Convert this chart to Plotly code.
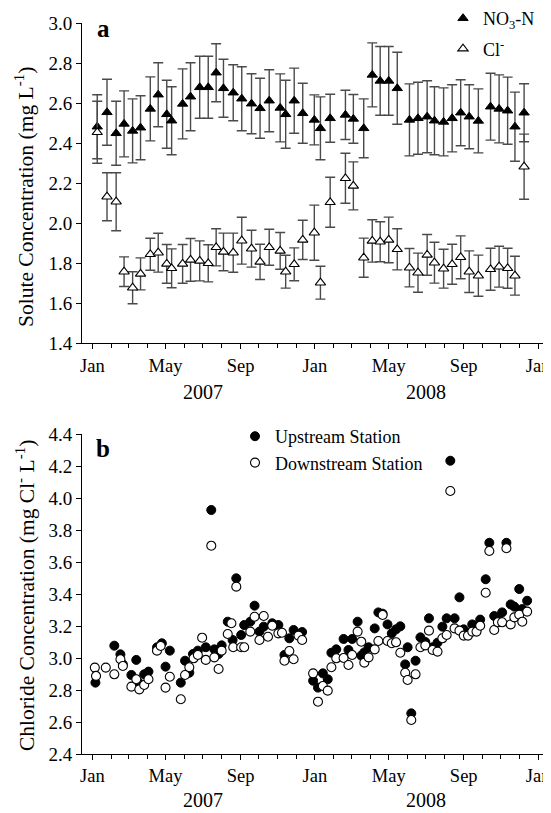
import plotly.graph_objects as go

# ---------------- Panel a data ----------------
sample_dates_a = [
    "2007-01-09", "2007-01-25", "2007-02-09", "2007-02-22", "2007-03-08", "2007-03-21",
    "2007-04-06", "2007-04-19", "2007-05-03", "2007-05-11", "2007-05-29", "2007-06-11",
    "2007-06-26", "2007-07-10", "2007-07-23", "2007-08-04", "2007-08-20", "2007-09-03",
    "2007-09-19", "2007-10-03", "2007-10-18", "2007-11-05", "2007-11-14", "2007-11-28",
    "2007-12-12", "2007-12-31", "2008-01-10", "2008-01-26", "2008-02-20", "2008-03-04",
    "2008-03-21", "2008-04-04", "2008-04-17", "2008-05-01", "2008-05-15", "2008-06-04",
    "2008-06-18", "2008-07-03", "2008-07-15", "2008-07-30", "2008-08-13", "2008-08-27",
    "2008-09-10", "2008-09-25", "2008-10-15", "2008-10-29", "2008-11-12", "2008-11-24",
    "2008-12-09",
]
no3_n = [
    2.483, 2.555, 2.45, 2.497, 2.462, 2.478, 2.572, 2.643, 2.545, 2.513, 2.597, 2.633,
    2.68, 2.68, 2.753, 2.675, 2.653, 2.623, 2.598, 2.575, 2.613, 2.577, 2.545, 2.613,
    2.55, 2.517, 2.475, 2.525, 2.542, 2.522, 2.475, 2.742, 2.712, 2.712, 2.675, 2.517,
    2.525, 2.533, 2.513, 2.507, 2.525, 2.553, 2.533, 2.512, 2.583, 2.572, 2.563, 2.483,
    2.553,
]
no3_err = [
    0.16, 0.165, 0.16, 0.165, 0.16, 0.16, 0.16, 0.16, 0.17, 0.17, 0.175, 0.17,
    0.155, 0.155, 0.145, 0.145, 0.14, 0.16, 0.15, 0.15, 0.155, 0.17, 0.17, 0.163,
    0.15, 0.125, 0.157, 0.12, 0.123, 0.122, 0.147, 0.16, 0.172, 0.172, 0.18, 0.18,
    0.18, 0.18, 0.17, 0.17, 0.168, 0.165, 0.16, 0.16, 0.167, 0.17, 0.168, 0.173,
    0.145,
]
chloride_a = [
    2.455, 2.133, 2.108, 1.758, 1.678, 1.747, 1.845, 1.853, 1.797, 1.775, 1.797, 1.817,
    1.812, 1.80, 1.88, 1.857, 1.853, 1.913, 1.873, 1.807, 1.88, 1.862, 1.758, 1.795,
    1.917, 1.953, 1.703, 2.105, 2.225, 2.187, 1.828, 1.912, 1.908, 1.917, 1.87, 1.778,
    1.753, 1.842, 1.803, 1.773, 1.795, 1.83, 1.758, 1.738, 1.77, 1.783, 1.775, 1.738,
    2.283,
]
chloride_err = [
    0.155, 0.12, 0.145, 0.074, 0.08, 0.08, 0.08, 0.097, 0.097, 0.097, 0.097, 0.107,
    0.10, 0.093, 0.093, 0.094, 0.098, 0.117, 0.092, 0.088, 0.09, 0.092, 0.082, 0.082,
    0.098, 0.138, 0.082, 0.125, 0.125, 0.12, 0.098, 0.106, 0.10, 0.114, 0.103, 0.096,
    0.098, 0.102, 0.102, 0.097, 0.10, 0.107, 0.104, 0.103, 0.105, 0.102, 0.10, 0.097,
    0.163,
]

# ---------------- Panel b data ----------------
up_dates = [
    "2007-01-06", "2007-02-06", "2007-02-16", "2007-02-20", "2007-03-06", "2007-03-14",
    "2007-03-19", "2007-03-27", "2007-04-03", "2007-04-17", "2007-04-25", "2007-05-01",
    "2007-05-08", "2007-05-26", "2007-06-02", "2007-06-09", "2007-06-15", "2007-06-23",
    "2007-07-06", "2007-07-15", "2007-07-20", "2007-07-27", "2007-08-01", "2007-08-11",
    "2007-08-19", "2007-08-25", "2007-09-02", "2007-09-07", "2007-09-17", "2007-09-24",
    "2007-10-02", "2007-10-09", "2007-10-23", "2007-11-02", "2007-11-12", "2007-11-20",
    "2007-11-27", "2007-12-11", "2007-12-29", "2008-01-06",
    "2008-01-14", "2008-01-22", "2008-01-28", "2008-02-05", "2008-02-17", "2008-02-25",
    "2008-03-02", "2008-03-11", "2008-03-17", "2008-03-22", "2008-03-29", "2008-04-08",
    "2008-04-14", "2008-04-21", "2008-04-29", "2008-05-06", "2008-05-13", "2008-05-20",
    "2008-05-28", "2008-06-01", "2008-06-07", "2008-06-14", "2008-06-22", "2008-06-30",
    "2008-07-06", "2008-07-12", "2008-07-20", "2008-07-28", "2008-08-04", "2008-08-10",
    "2008-08-17", "2008-08-25", "2008-09-01", "2008-09-08", "2008-09-15", "2008-09-22",
    "2008-09-28", "2008-10-07", "2008-10-13", "2008-10-21", "2008-10-27", "2008-11-03",
    "2008-11-10", "2008-11-17", "2008-11-23", "2008-12-01", "2008-12-06", "2008-12-14",
]
upstream = [
    2.846, 3.077, 3.023, 2.96, 2.894, 2.988, 2.842, 2.898, 2.915, 3.067, 3.092, 2.946,
    3.046, 2.846, 2.983, 2.908, 3.025, 3.046, 3.067, 3.925, 3.054, 3.025, 3.079, 3.227,
    3.1125, 3.498, 3.144, 3.206, 3.227, 3.327, 3.165, 3.196, 3.217, 3.206, 3.019, 3.123,
    3.175, 3.1625, 2.858, 2.815,
    2.904, 2.867, 3.033, 3.054, 3.119, 3.05, 3.119, 3.227, 3.015, 3.035, 3.067, 3.185,
    3.285, 3.277, 3.21, 3.154, 3.179, 3.198, 2.96, 3.067, 2.654, 2.983, 3.129, 3.10,
    3.248, 3.067, 3.096, 3.196, 3.248, 4.233, 3.248, 3.379, 3.179, 3.158, 3.21, 3.175,
    3.24, 3.492, 3.72, 3.2625, 3.248, 3.285, 3.72, 3.335, 3.321, 3.431, 3.306, 3.358,
]
down_dates = [
    "2007-01-05", "2007-01-07", "2007-01-23", "2007-02-06", "2007-02-16", "2007-02-20",
    "2007-03-06", "2007-03-14", "2007-03-19", "2007-03-27", "2007-04-03", "2007-04-17",
    "2007-04-23", "2007-05-01", "2007-05-08", "2007-05-26", "2007-06-02", "2007-06-09",
    "2007-06-16", "2007-06-23", "2007-06-30", "2007-07-06", "2007-07-15", "2007-07-20",
    "2007-07-27", "2007-08-01", "2007-08-11", "2007-08-17", "2007-08-20", "2007-08-25",
    "2007-09-02", "2007-09-07", "2007-09-17", "2007-09-24", "2007-10-02", "2007-10-09",
    "2007-10-16", "2007-10-23", "2007-11-02", "2007-11-08", "2007-11-12", "2007-11-20",
    "2007-11-27", "2007-12-05", "2007-12-11", "2007-12-29", "2008-01-06",
    "2008-01-14", "2008-01-22", "2008-01-28", "2008-02-05", "2008-02-17", "2008-02-25",
    "2008-03-02", "2008-03-11", "2008-03-17", "2008-03-22", "2008-03-29", "2008-04-08",
    "2008-04-14", "2008-04-21", "2008-04-29", "2008-05-06", "2008-05-13", "2008-05-20",
    "2008-05-28", "2008-06-01", "2008-06-07", "2008-06-14", "2008-06-22", "2008-06-30",
    "2008-07-06", "2008-07-12", "2008-07-20", "2008-07-28", "2008-08-04", "2008-08-10",
    "2008-08-17", "2008-08-25", "2008-09-01", "2008-09-08", "2008-09-15", "2008-09-22",
    "2008-09-28", "2008-10-07", "2008-10-13", "2008-10-21", "2008-10-27", "2008-11-03",
    "2008-11-10", "2008-11-17", "2008-11-23", "2008-12-01", "2008-12-06", "2008-12-14",
]
downstream = [
    2.94, 2.888, 2.94, 2.898, 2.992, 2.95, 2.821, 2.867, 2.804, 2.831, 2.867, 3.046,
    3.075, 2.815, 2.883, 2.742, 2.894, 2.942, 2.998, 3.019, 3.127, 2.988, 3.702, 3.004,
    2.931, 3.046, 3.15, 3.217, 3.067, 3.446, 3.067, 3.067, 3.165, 3.258, 3.1125, 3.2625,
    3.133, 3.202, 3.154, 3.158, 2.983, 3.044, 2.992, 3.14, 3.1125, 2.904, 2.727,
    2.825, 2.796, 2.942, 2.998, 3.00, 2.956, 3.019, 3.165, 3.102, 2.971, 3.004, 3.054,
    3.106, 3.269, 3.106, 3.092, 3.098, 3.033, 2.908, 2.8625, 2.6125, 2.898, 3.067, 3.079,
    3.171, 3.05, 3.04, 3.123, 3.144, 4.044, 3.185, 3.171, 3.14, 3.14, 3.165, 3.165,
    3.202, 3.408, 3.669, 3.175, 3.223, 3.223, 3.686, 3.21, 3.254, 3.271, 3.227, 3.29,
]

year_labels = ["2007", "2008"]
year_centers = ["2007-07-01", "2008-07-01"]

FONT = "Liberation Serif"
OFF = 8                      # page body margin of the browser
W, H = 551 - OFF, 813 - OFF  # figure fits inside the window
ML = 82 - OFF                # left edge of the plotting area (screen x = 82)
MR = 8


def py(px):
    """screen y pixel -> paper fraction"""
    return 1 - (px - OFF) / H


def pxx(px):
    """screen x pixel -> paper fraction"""
    return (px - OFF - ML) / (W - ML - MR)


fig = go.Figure()

bar_col = "#4a4a4a"
fig.add_trace(go.Scatter(
    x=sample_dates_a, y=no3_n, mode="markers", name="NO<sub>3</sub>-N",
    marker=dict(symbol="triangle-up", size=9, color="black", line=dict(color="black", width=1)),
    error_y=dict(type="data", array=no3_err, color=bar_col, thickness=1.4, width=5),
    xaxis="x", yaxis="y", legend="legend", legendgroup="g1",
))
fig.add_trace(go.Scatter(
    x=sample_dates_a, y=chloride_a, mode="markers", name="Cl<sup>-</sup>",
    marker=dict(symbol="triangle-up", size=9, color="white", line=dict(color="black", width=1.1)),
    error_y=dict(type="data", array=chloride_err, color=bar_col, thickness=1.4, width=5),
    xaxis="x", yaxis="y", legend="legend", legendgroup="g2",
))
fig.add_trace(go.Scatter(
    x=up_dates, y=upstream, mode="markers", name="Upstream Station",
    marker=dict(symbol="circle", size=9, color="black", line=dict(color="black", width=1)),
    xaxis="x2", yaxis="y2", legend="legend2", legendgroup="g3",
))
fig.add_trace(go.Scatter(
    x=down_dates, y=downstream, mode="markers", name="Downstream Station",
    marker=dict(symbol="circle", size=9, color="white", line=dict(color="black", width=1.1)),
    xaxis="x2", yaxis="y2", legend="legend2", legendgroup="g3",
))

xcommon = dict(
    type="date", range=["2006-12-15", "2009-01-09"], tick0="2007-01-01", dtick="M4",
    tickformat="%b", ticks="outside", ticklen=5, tickwidth=1, tickcolor="black",
    showline=True, linecolor="black", linewidth=1, showgrid=False, zeroline=False,
    minor=dict(dtick="M1", ticks="outside", ticklen=4, tickwidth=1, tickcolor="black", showgrid=False),
    tickfont=dict(family=FONT, size=18.5, color="black"), automargin=False,
    ticklabeloverflow="allow",
)
ycommon = dict(
    dtick=0.2, tickformat=".1f", ticks="outside", ticklen=5, tickwidth=1, tickcolor="black",
    showline=True, linecolor="black", linewidth=1, showgrid=False, zeroline=False,
    tickfont=dict(family=FONT, size=19, color="black"), automargin=False,
)

ya_top, ya_bot = 23.3, 343.3
yb_top, yb_bot = 434, 754

fig.update_layout(
    width=W, height=H, template="none",
    paper_bgcolor="white", plot_bgcolor="white",
    margin=dict(l=ML, r=MR, t=0, b=0, autoexpand=False),
    font=dict(family=FONT, color="black"),
    xaxis=dict(xcommon, domain=[0, 1], anchor="y"),
    yaxis=dict(ycommon, range=[1.4, 3.0], domain=[py(ya_bot), py(ya_top)], anchor="x"),
    xaxis2=dict(xcommon, domain=[0, 1], anchor="y2"),
    yaxis2=dict(ycommon, range=[2.4, 4.4], domain=[py(yb_bot), py(yb_top)], anchor="x2"),
    legend=dict(x=pxx(443), y=py(0), xanchor="left", yanchor="top",
                font=dict(family=FONT, size=18, color="black"), bgcolor="rgba(0,0,0,0)",
                tracegroupgap=4, itemclick=False),
    legend2=dict(x=pxx(235), y=py(418), xanchor="left", yanchor="top",
                 font=dict(family=FONT, size=18, color="black"), bgcolor="rgba(0,0,0,0)",
                 tracegroupgap=0, itemclick=False),
    showlegend=True,
)

ann = []
ann.append(dict(text="<b>a</b>", x=pxx(103), y=py(29), xref="paper", yref="paper",
                showarrow=False, font=dict(family=FONT, size=25, color="black"),
                xanchor="center", yanchor="middle"))
ann.append(dict(text="<b>b</b>", x=pxx(103), y=py(449), xref="paper", yref="paper",
                showarrow=False, font=dict(family=FONT, size=25, color="black"),
                xanchor="center", yanchor="middle"))
ann.append(dict(text="Solute Concentration (mg L<sup>-1</sup>)", x=pxx(25), y=py(197),
                xref="paper", yref="paper", showarrow=False, textangle=-90,
                font=dict(family=FONT, size=21.5, color="black"), xanchor="center", yanchor="middle"))
ann.append(dict(text="Chloride Concentration (mg Cl<sup>-</sup> L<sup>-1</sup>)", x=pxx(25), y=py(596),
                xref="paper", yref="paper", showarrow=False, textangle=-90,
                font=dict(family=FONT, size=21.5, color="black"), xanchor="center", yanchor="middle"))
for lab, xc in zip(year_labels, year_centers):
    ann.append(dict(text=lab, x=xc, y=py(392), xref="x", yref="paper", showarrow=False,
                    font=dict(family=FONT, size=20, color="black"), xanchor="center", yanchor="middle"))
    ann.append(dict(text=lab, x=xc, y=py(800), xref="x2", yref="paper", showarrow=False,
                    font=dict(family=FONT, size=20, color="black"), xanchor="center", yanchor="middle"))
fig.update_layout(annotations=ann)

fig.write_html("out.html")
